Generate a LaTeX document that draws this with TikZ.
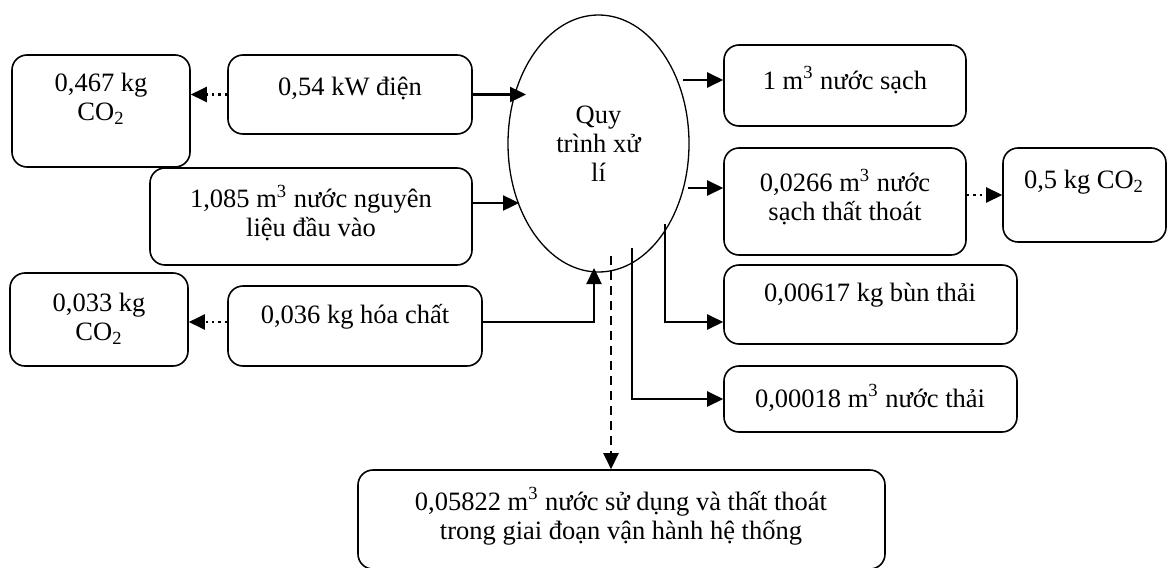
\documentclass[tikz,border=0pt]{standalone}
\usepackage{fontspec}
\setmainfont{Liberation Serif}
\usetikzlibrary{arrows.meta,fit,shapes.geometric}

\begin{document}
\begin{tikzpicture}[x=0.5pt,y=-0.5pt,
  hop/.style={draw, line width=0.8pt, rounded corners=7.5pt, inner sep=0pt},
  chu/.style={align=center, inner sep=0pt, font=\fontsize{13.25}{14.5}\selectfont},
  mui/.style={line width=1.2pt, -{Triangle[length=8pt,width=7.5pt]}},
  cham/.style={mui, dotted},
  gach/.style={mui, dash pattern=on 4.5pt off 3pt}]
\useasboundingbox (0,0) rectangle (1170,567);
% Dau vao
\node[hop, fit={(12,55) (190,167)}] (co2a) {};
\node[chu] (co2a-t) at (101,99) {0,467 kg\\CO\textsubscript{2}};
\node[hop, fit={(228,55) (472,134)}] (elec) {};
\node[chu] (elec-t) at (350,88) {0,54 kW điện};
\node[hop, fit={(150,168) (472,265)}] (raw) {};
\node[chu] (raw-t) at (311,213) {1,085 m\textsuperscript{3} nước nguyên\\liệu đầu vào};
\node[hop, fit={(10,273) (188,366)}] (co2b) {};
\node[chu] (co2b-t) at (99,319) {0,033 kg\\CO\textsubscript{2}};
\node[hop, fit={(228,286) (482,366)}] (chem) {};
\node[chu] (chem-t) at (355,317) {0,036 kg hóa chất};
% Quy trinh
\node[draw, ellipse, line width=0.65pt, minimum width=90.5pt, minimum height=128.5pt,
  chu] (proc) at (598.5,143.5) {Quy\\trình xử\\lí};
% Dau ra
\node[hop, fit={(724,45) (966,126)}] (clean) {};
\node[chu] (clean-t) at (845,80) {1 m\textsuperscript{3} nước sạch};
\node[hop, fit={(724,148) (966,255)}] (lost) {};
\node[chu] (lost-t) at (845,197) {0,0266 m\textsuperscript{3} nước\\sạch thất thoát};
\node[hop, fit={(1003,148) (1166,242)}] (co2c) {};
\node[chu] (co2c-t) at (1084,182) {0,5 kg CO\textsubscript{2}};
\node[hop, fit={(724,265) (1017,344)}] (sludge) {};
\node[chu] (sludge-t) at (870,295) {0,00617 kg bùn thải};
\node[hop, fit={(724,366) (1017,432)}] (waste) {};
\node[chu] (waste-t) at (870,398) {0,00018 m\textsuperscript{3} nước thải};
\node[hop, fit={(358,470) (885,569)}] (used) {};
\node[chu] (used-t) at (621,516) {0,05822 m\textsuperscript{3} nước sử dụng và thất thoát\\trong giai đoạn vận hành hệ thống};
% Diem noi tren elip
\coordinate (c-elec) at (526,0);
\coordinate (c-raw) at (519,203);
\coordinate (c-chem) at (594,268);
\coordinate (c-clean) at (683,80);
\coordinate (c-lost) at (688,188);
\coordinate (c-sludge) at (665,224);
\coordinate (c-waste) at (632,248);
\coordinate (c-used) at (611,256);
% Mui ten vao
\draw[mui] (elec.east) -- (elec.east -| c-elec);
\draw[mui] (c-raw -| raw.east) -- (c-raw);
\draw[mui] ([yshift=2pt]chem.east) -| (c-chem);
\draw[cham] (elec.west) -- (elec.west -| co2a.east);
\draw[cham] ([yshift=2pt]chem.west) -- ([yshift=2pt]chem.west -| co2b.east);
% Mui ten ra
\draw[mui] (c-clean) -- (c-clean -| clean.west);
\draw[mui] (c-lost) -- (c-lost -| lost.west);
\draw[cham] (co2c.west -| lost.east) -- (co2c.west);
\draw[mui] (c-sludge) |- ([yshift=-8.75pt]sludge.west);
\draw[mui] (c-waste) |- (waste.west);
\draw[gach] (c-used) -- (c-used |- used.north);
\end{tikzpicture}
\end{document}
